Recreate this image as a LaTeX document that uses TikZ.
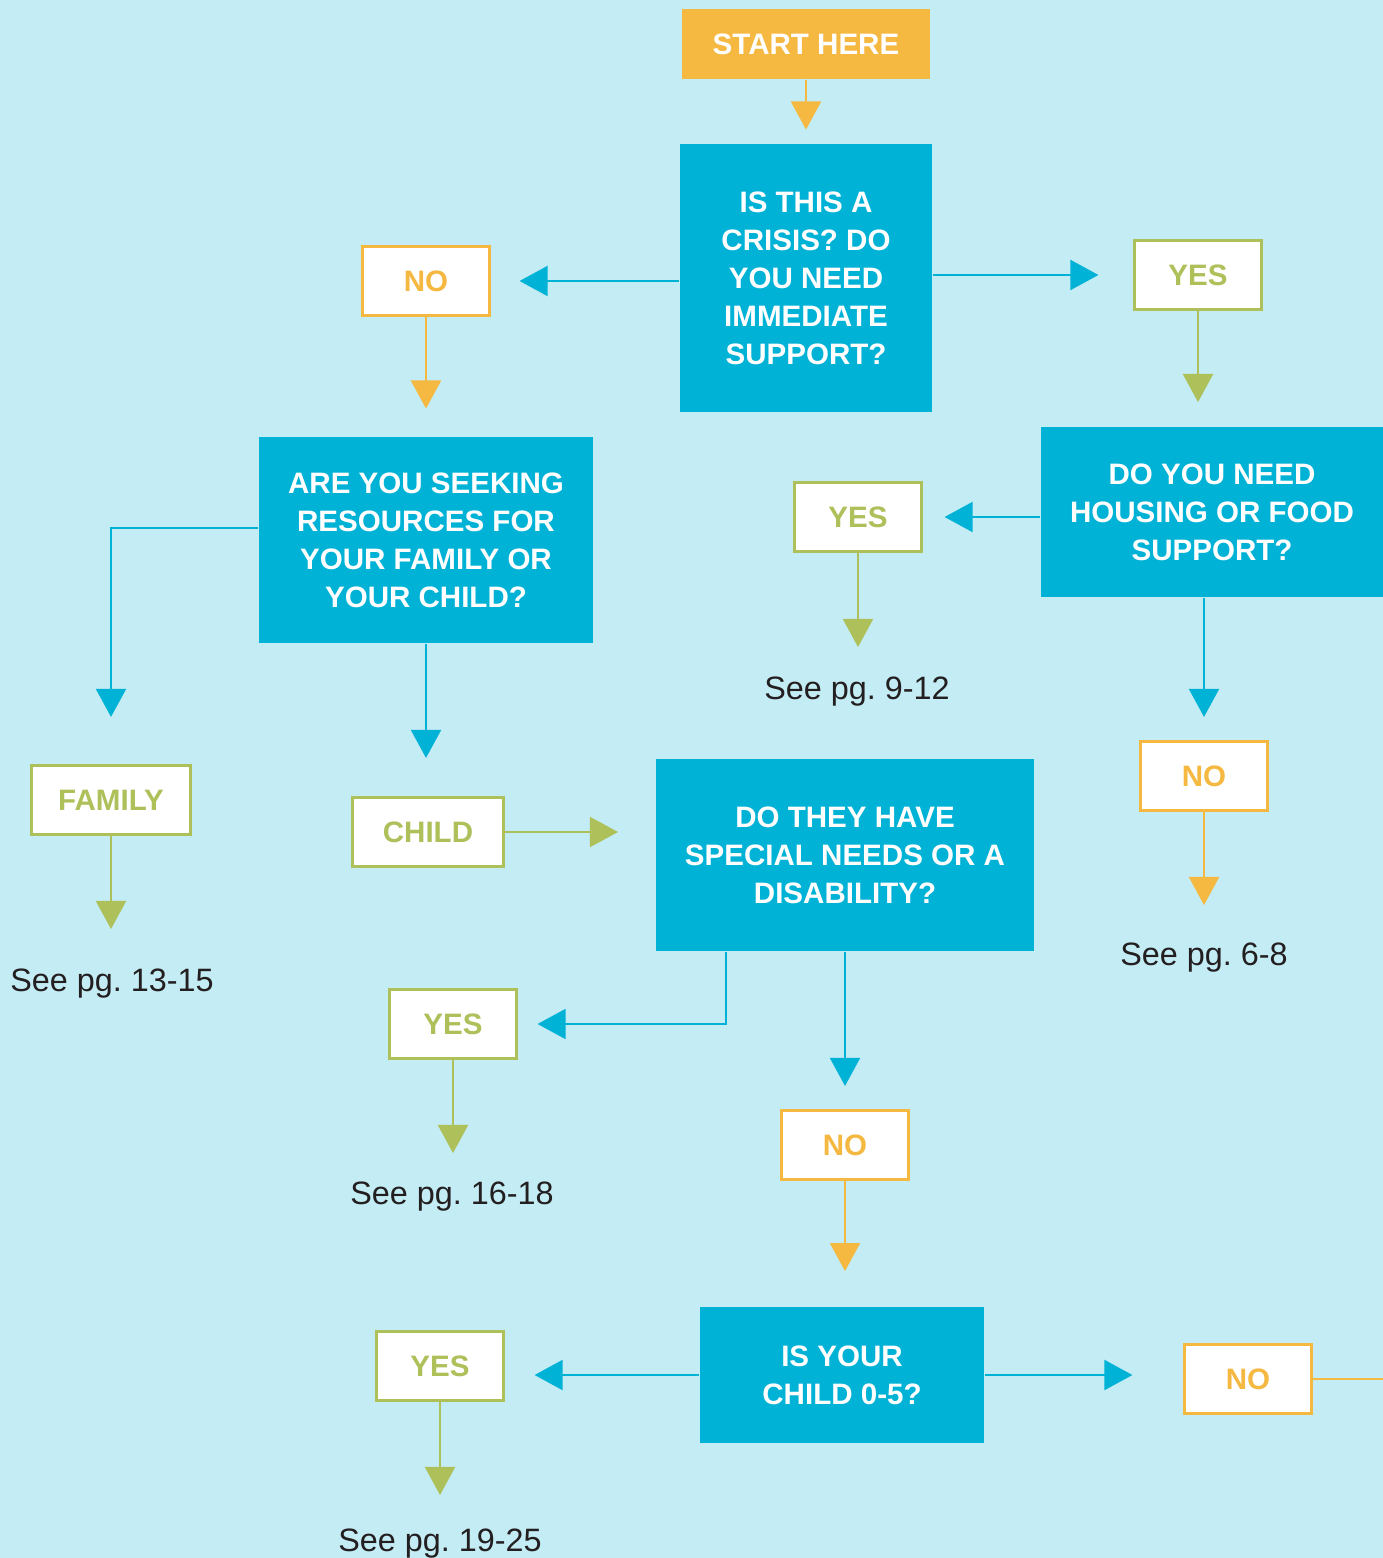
\documentclass[tikz,border=0pt]{standalone}
\usepackage{fontspec}
\setmainfont{Liberation Sans}
\usepackage{xcolor}
\usepackage{tikz}
\usetikzlibrary{arrows.meta,positioning}
\frenchspacing

\definecolor{skybg}{HTML}{C4ECF4}
\definecolor{qblue}{HTML}{00B2D6}
\definecolor{aorange}{HTML}{F5B942}
\definecolor{agreen}{HTML}{AEC05A}
\definecolor{ink}{HTML}{231F20}

\begin{document}
\begin{tikzpicture}[x=0.01cm, y=-0.01cm, >={Triangle[length=8pt,width=8.5pt]}, line width=0.75pt]
      \tikzstyle{question}=[fill=qblue, text=white, font=\bfseries\fontsize{8.4}{10.8}\selectfont, align=center, inner sep=0pt]
      \tikzstyle{answer}=[fill=white, line width=0.85pt, font=\bfseries\fontsize{8.4}{10.8}\selectfont, minimum width=1.26cm, minimum height=0.69cm, inner sep=0pt]
      \tikzstyle{yes}=[answer, draw=agreen, text=agreen]
      \tikzstyle{no}=[answer, draw=aorange, text=aorange]
      \tikzstyle{pages}=[text=ink, font=\fontsize{9.2}{11}\selectfont, inner sep=0pt, anchor=base]
      \tikzstyle{blueflow}=[->, draw=qblue]
      \tikzstyle{greenflow}=[->, draw=agreen]
      \tikzstyle{orangeflow}=[->, draw=aorange]

      \fill[skybg] (0,0) rectangle (1383,1558);
      \useasboundingbox (0,0) rectangle (1383,1558);

      \node[question, fill=aorange, minimum width=2.47cm, minimum height=0.69cm] (start) at (806,44) {START HERE};
      \node[question, minimum width=2.51cm, minimum height=2.68cm] (crisis) at (806,278) {IS THIS A\\CRISIS? DO\\YOU NEED\\IMMEDIATE\\SUPPORT?};
      \node[no] (no1) at (426,281) {NO};
      \node[yes] (yes1) at (1198,275) {YES};

      \node[question, minimum width=3.34cm, minimum height=2.06cm] (seeking) at (426,540) {ARE YOU SEEKING\\RESOURCES FOR\\YOUR FAMILY OR\\YOUR CHILD?};
      \node[question, minimum width=3.42cm, minimum height=1.69cm] (housing) at (1212,512) {DO YOU NEED\\HOUSING OR FOOD\\SUPPORT?};
      \node[yes] (yes2) at (858,517) {YES};
      \node[pages] (pg912) at (857,699) {See pg. 9-12};
      \node[no] (no2) at (1204,776) {NO};
      \node[pages] (pg68) at (1204,965) {See pg. 6-8};

      \node[yes, minimum width=1.58cm] (family) at (111,800) {FAMILY};
      \node[pages] (pg1315) at (112,991) {See pg. 13-15};
      \node[yes, minimum width=1.51cm] (child) at (428,832) {CHILD};
      \node[question, minimum width=3.77cm, minimum height=1.92cm] (special) at (845,855) {DO THEY HAVE\\SPECIAL NEEDS OR A\\DISABILITY?};
      \node[yes] (yes3) at (453,1024) {YES};
      \node[pages] (pg1618) at (452,1204) {See pg. 16-18};
      \node[no] (no3) at (845,1145) {NO};

      \node[question, minimum width=2.83cm, minimum height=1.35cm] (age) at (842,1375) {IS YOUR\\CHILD 0-5?};
      \node[yes] (yes4) at (440,1366) {YES};
      \node[pages] (pg1925) at (440,1551) {See pg. 19-25};
      \node[no] (no4) at (1248,1379) {NO};
      \coordinate (offpage) at (1383,1379);

      % crisis
      \draw[orangeflow, shorten >=0.13cm] (start.south) -- (crisis.north);
      \draw[blueflow, shorten >=0.29cm] (crisis.west |- no1) -- (no1);
      \draw[blueflow, shorten >=0.35cm] (crisis.east |- yes1) -- (yes1);
      \draw[orangeflow, shorten >=0.27cm] (no1.south) -- (no1.south |- seeking.north);
      \draw[greenflow, shorten >=0.24cm] (yes1.south) -- (yes1.south |- housing.north);

      % housing
      \draw[blueflow, shorten >=0.22cm] (housing.west |- yes2) -- (yes2);
      \draw[greenflow, shorten >=0.28cm] (yes2.south) -- (yes2.south |- pg912.north);
      \draw[blueflow, shorten >=0.23cm] (no2 |- housing.south) -- (no2);
      \draw[orangeflow, shorten >=0.36cm] (no2.south) -- (no2.south |- pg68.north);

      % family or child
      \draw[blueflow, shorten >=0.47cm] ([yshift=0.12cm]seeking.west) -| (family.north);
      \draw[greenflow, shorten >=0.38cm] (family.south) -- (family.south |- pg1315.north);
      \draw[blueflow, shorten >=0.38cm] (seeking.south) -- (seeking.south |- child.north);
      \draw[greenflow, shorten >=0.37cm] (child.east) -- (child.east -| special.west);

      % special needs
      \draw[blueflow, shorten >=0.20cm] ([xshift=-1.19cm]special.south) |- (yes3.east);
      \draw[greenflow, shorten >=0.27cm] (yes3.south) -- (yes3.south |- pg1618.north);
      \draw[blueflow, shorten >=0.23cm] (no3 |- special.south) -- (no3);
      \draw[orangeflow, shorten >=0.35cm] (no3.south) -- (no3.south |- age.north);

      % age
      \draw[blueflow, shorten >=0.30cm] (age.west) -- (age.west -| yes4.east);
      \draw[greenflow, shorten >=0.32cm] (yes4.south) -- (yes4.south |- pg1925.north);
      \draw[blueflow, shorten >=0.51cm] (age.east) -- (age.east -| no4.west);
      \draw[aorange] (no4.east) -- (offpage);

\end{tikzpicture}
\end{document}
